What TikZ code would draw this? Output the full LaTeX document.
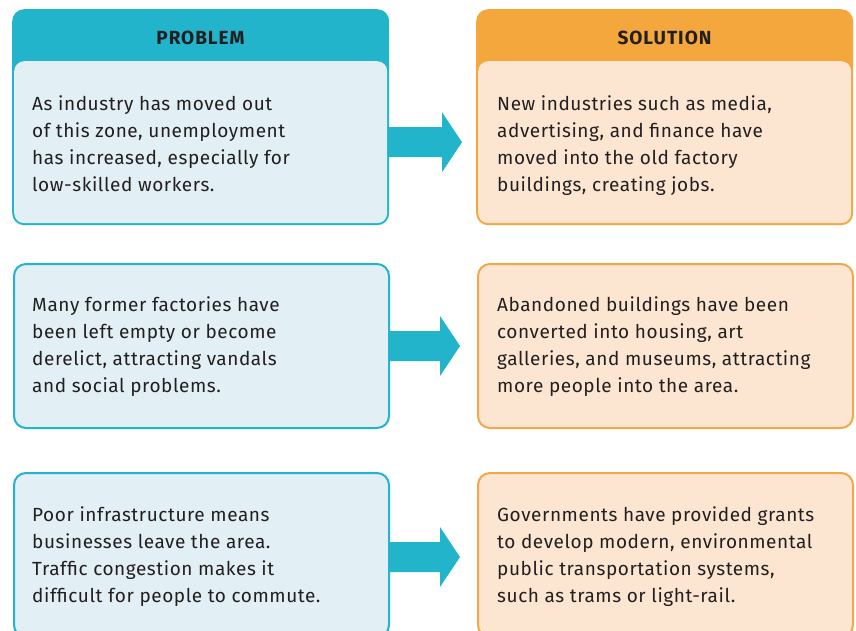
\documentclass[tikz,border=0pt]{standalone}
\usepackage{fontspec}
\setmainfont{Fira Sans}[LetterSpace=3]
\newfontfamily\hdrfont{Fira Sans}[LetterSpace=5]
\usetikzlibrary{calc}
\definecolor{tealc}{HTML}{22B4CB}
\definecolor{orangec}{HTML}{F4A73C}
\definecolor{lightblue}{HTML}{E2EFF5}
\definecolor{lightorange}{HTML}{FCE6D2}
\definecolor{orangeline}{HTML}{F2A84A}
\definecolor{txt}{HTML}{231F20}
\tikzset{
  hdrbox/.style={rectangle, rounded corners=12pt, anchor=north west, minimum width=377pt, minimum height=216pt, inner sep=0pt},
  bodybox/.style={rectangle, rounded corners=10pt, anchor=north west, minimum width=373pt, minimum height=162pt, inner sep=0pt},
  plainbox/.style={rectangle, rounded corners=12pt, line width=2pt, anchor=north west, minimum width=375pt, minimum height=164pt, inner sep=0pt},
  hdrtext/.style={anchor=base, font=\hdrfont\fontsize{19}{20}\selectfont\bfseries, text=txt, inner sep=0pt},
  bodytext/.style={anchor=base west, align=left, font=\fontsize{19}{26.7}\selectfont, text=txt, inner sep=0pt},
}
\newcommand{\arrowfill}[2]{%
  \fill[tealc] ($(#1)+(0,15)$) -- ($(#2)+(-20,15)$) -- ($(#2)+(-20,30)$) -- (#2) -- ($(#2)+(-20,-30)$) -- ($(#2)+(-20,-15)$) -- ($(#1)+(0,-15)$) -- cycle;}
\begin{document}
\begin{tikzpicture}[x=1pt,y=-1pt]
\useasboundingbox[fill=white] (0,0) rectangle (856,630);
% Row 1
\node[hdrbox, fill=tealc] (p1) at (12,9) {};
\node[bodybox, fill=lightblue] (pb1) at (14,61) {};
\node[hdrbox, fill=orangec] (s1) at (476,9) {};
\node[bodybox, fill=lightorange] (sb1) at (478,61) {};
\node[hdrtext] (ph) at (200.5,44) {PROBLEM};
\node[hdrtext] (sh) at (664.5,44) {SOLUTION};
% Row 2
\node[plainbox, draw=tealc, fill=lightblue] (p2) at (13,263) {};
\node[plainbox, draw=orangeline, fill=lightorange] (s2) at (477,263) {};
% Row 3
\node[plainbox, draw=tealc, fill=lightblue] (p3) at (13,472) {};
\node[plainbox, draw=orangeline, fill=lightorange] (s3) at (477,472) {};
% arrows
\coordinate (a1s) at (pb1.east);
\coordinate (a1e) at ([xshift=-16pt]sb1.west);
\coordinate (a2s) at (p2.east);
\coordinate (a2e) at ([xshift=-17pt]s2.west);
\coordinate (a3s) at ([yshift=-2pt]p3.east);
\coordinate (a3e) at ([xshift=-17pt,yshift=-2pt]s3.west);
\arrowfill{a1s}{a1e}
\arrowfill{a2s}{a2e}
\arrowfill{a3s}{a3e}
% texts (anchor = baseline of last line)
\node[bodytext] (t1) at (32,191) {As industry has moved out\\of this zone, unemployment\\has increased, especially for\\low-skilled workers.};
\node[bodytext] (u1) at (497,191) {New industries such as media,\\advertising, and finance have\\moved into the old factory\\buildings, creating jobs.};
\node[bodytext] (t2) at (32,392) {Many former factories have\\been left empty or become\\derelict, attracting vandals\\and social problems.};
\node[bodytext] (u2) at (497,392) {Abandoned buildings have been\\converted into housing, art\\galleries, and museums, attracting\\more people into the area.};
\node[bodytext] (t3) at (32,602) {Poor infrastructure means\\businesses leave the area.\\Traffic congestion makes it\\difficult for people to commute.};
\node[bodytext] (u3) at (497,602) {Governments have provided grants\\to develop modern, environmental\\public transportation systems,\\such as trams or light-rail.};
\end{tikzpicture}
\end{document}
